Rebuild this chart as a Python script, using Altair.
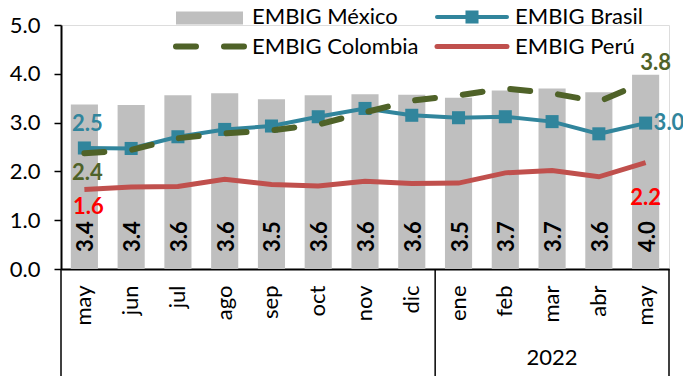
import altair as alt
import pandas as pd

# ---- data ----
keys = ["may|21", "jun|21", "jul|21", "ago|21", "sep|21", "oct|21", "nov|21", "dic|21",
        "ene|22", "feb|22", "mar|22", "abr|22", "may|22"]
mexico = [3.37, 3.36, 3.56, 3.60, 3.48, 3.56, 3.58, 3.57, 3.51, 3.66, 3.70, 3.62, 3.98]
brasil = [2.48, 2.47, 2.71, 2.86, 2.93, 3.12, 3.29, 3.15, 3.10, 3.12, 3.02, 2.77, 2.99]
colombia = [2.37, 2.44, 2.68, 2.78, 2.84, 2.96, 3.21, 3.45, 3.56, 3.70, 3.60, 3.43, 3.84]
peru = [1.63, 1.68, 1.69, 1.84, 1.73, 1.70, 1.80, 1.75, 1.76, 1.97, 2.02, 1.89, 2.18]
series_names = ["EMBIG México", "EMBIG Brasil", "EMBIG Colombia", "EMBIG Perú"]
year_label = "2022"
y_ticks = [0, 1, 2, 3, 4, 5]

df = pd.DataFrame({"key": keys, "mexico": mexico, "brasil": brasil,
                   "colombia": colombia, "peru": peru})

FONT = "Lato"
FS = 22
C_MEX = "#BFBFBF"
C_BRA = "#31859C"
C_COL = "#4F6228"
C_PER = "#C0504D"
STEP = 608 / 13.0

xs = alt.X("key:N", sort=keys)

base = alt.Chart(df)

bars = base.mark_bar(color=C_MEX).encode(
    x=alt.X("key:N", sort=keys,
            scale=alt.Scale(paddingInner=0.42, paddingOuter=0.21),
            axis=alt.Axis(title=None, labelExpr="split(datum.value, '|')[0]",
                          labelAngle=270, ticks=False, labelFontSize=FS, labelFont=FONT,
                          labelColor="black", domainColor="black", domainWidth=2,
                          labelPadding=16)),
    y=alt.Y("mexico:Q", scale=alt.Scale(domain=[0, 5], nice=False),
            axis=alt.Axis(title=None, values=y_ticks, format=".1f", grid=False,
                          tickSize=7, tickColor="black", tickWidth=1.5,
                          domainColor="black", domainWidth=2, labelFontSize=FS,
                          labelFont=FONT, labelColor="black", labelPadding=14)),
)

bar_labels = base.mark_text(angle=270, align="left", baseline="middle", fontWeight="bold",
                            fontSize=FS, font=FONT, color="black", yOffset=-17, xOffset=2).encode(
    x=xs, y=alt.datum(0), text=alt.Text("mexico:Q", format=".1f"))

line_peru = base.mark_line(color=C_PER, strokeWidth=5).encode(x=xs, y="peru:Q")
line_bra = base.mark_line(color=C_BRA, strokeWidth=4,
                          point=alt.OverlayMarkDef(shape="square", size=170, filled=True,
                                                   color=C_BRA, opacity=1)).encode(x=xs, y="brasil:Q")
line_col = base.mark_line(color=C_COL, strokeWidth=6, strokeDash=[20, 28],
                          strokeCap="round").encode(x=xs, y="colombia:Q")

def end_label(key, field, color, dx, dy, align="center"):
    return base.transform_filter(alt.datum.key == key).mark_text(
        color=color, fontWeight="bold", fontSize=FS, font=FONT, dx=dx, dy=dy,
        align=align, baseline="middle").encode(
        x=xs, y=f"{field}:Q", text=alt.Text(f"{field}:Q", format=".1f"))

labels = [
    end_label("may|21", "brasil", C_BRA, 3, -24),
    end_label("may|21", "colombia", C_COL, 3, 20),
    end_label("may|21", "peru", "#FF0000", 4, 18),
    end_label("may|22", "colombia", C_COL, 10, -19),
    end_label("may|22", "brasil", C_BRA, 8, 0, "left"),
    end_label("may|22", "peru", "#FF0000", 0, 35),
]

# category separators below the axis
sep_left = alt.Chart(pd.DataFrame({"key": ["may|21", "ene|22"]})).mark_rule(
    color="black", strokeWidth=1.5, xOffset=-STEP / 2).encode(
    x=xs, y=alt.value(244), y2=alt.value(351))
sep_right = alt.Chart(pd.DataFrame({"key": ["may|22"]})).mark_rule(
    color="black", strokeWidth=1.5, xOffset=STEP / 2).encode(
    x=xs, y=alt.value(244), y2=alt.value(351))
year = alt.Chart(pd.DataFrame({"key": ["mar|22"], "t": [year_label]})).mark_text(
    fontSize=FS, font=FONT, color="black", baseline="middle").encode(
    x=xs, y=alt.value(333), text="t:N")

# legend (drawn manually)
one = alt.Chart(pd.DataFrame({"n": series_names}))
leg = [
    one.transform_filter(alt.datum.n == series_names[0]).mark_rect(color=C_MEX).encode(
        x=alt.value(115), x2=alt.value(182), y=alt.value(-13.5), y2=alt.value(-0.5)),
    one.transform_filter(alt.datum.n == series_names[1]).mark_rule(
        color=C_BRA, strokeWidth=4, strokeCap="round").encode(
        x=alt.value(376), x2=alt.value(446), y=alt.value(-8)),
    one.transform_filter(alt.datum.n == series_names[1]).mark_square(
        color=C_BRA, size=170, opacity=1).encode(x=alt.value(411), y=alt.value(-8)),
    one.transform_filter(alt.datum.n == series_names[2]).mark_rule(
        color=C_COL, strokeWidth=6, strokeCap="round", strokeDash=[20, 28]).encode(
        x=alt.value(115), x2=alt.value(185), y=alt.value(21.5)),
    one.transform_filter(alt.datum.n == series_names[3]).mark_rule(
        color=C_PER, strokeWidth=5, strokeCap="round").encode(
        x=alt.value(376), x2=alt.value(446), y=alt.value(21.5)),
]
leg_text_pos = {series_names[0]: (191, -8), series_names[1]: (454, -8),
                series_names[2]: (191, 21.5), series_names[3]: (454, 21.5)}
for name, (px, py) in leg_text_pos.items():
    leg.append(one.transform_filter(alt.datum.n == name).mark_text(
        align="left", baseline="middle", fontSize=FS, font=FONT, color="black").encode(
        x=alt.value(px), y=alt.value(py), text="n:N"))

chart = alt.layer(bars, bar_labels, line_peru, line_bra, line_col, *labels,
                  sep_left, sep_right, year, *leg).properties(
    width=608, height=244,
    padding={"left": 61, "top": 25, "right": 14, "bottom": 107},
    autosize="none",
).configure_view(stroke=None).configure(background="white")

chart.save("out.html", embed_options={"renderer": "svg", "actions": False})
